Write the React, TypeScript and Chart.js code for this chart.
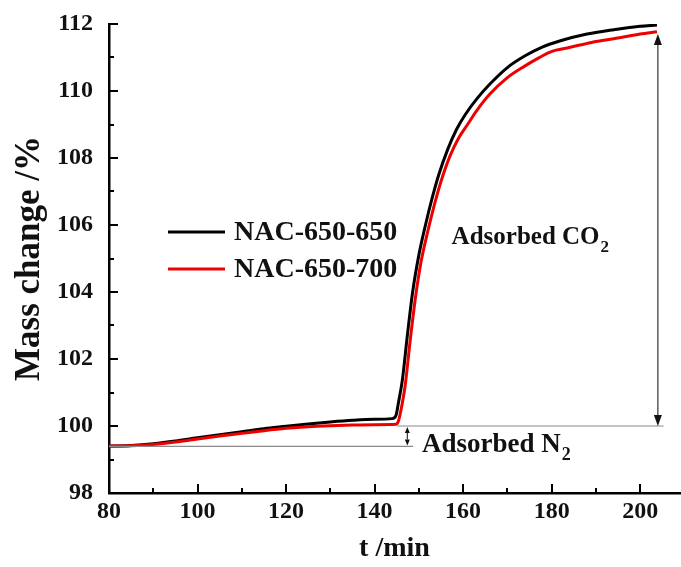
import React, { useEffect, useRef } from "react";
import { Chart, registerables } from "chart.js";

Chart.register(...registerables);

// ---- data ----
const seriesNames = ["NAC-650-650", "NAC-650-700"];

const tBlack = [80, 85, 90, 95, 100, 105, 110, 115, 120, 125, 130, 135, 140, 144, 144.8, 145.4, 146.3, 147.4, 148.6, 150, 151.5, 153, 154.5, 156.5, 158.5, 160.5, 163, 166, 170, 174, 178, 182, 188, 194, 200, 203.8];
const mBlack = [99.40, 99.42, 99.47, 99.55, 99.65, 99.74, 99.83, 99.92, 99.99, 100.06, 100.12, 100.17, 100.20, 100.22, 100.3, 100.7, 101.4, 102.7, 104.0, 105.1, 106.0, 106.8, 107.5, 108.25, 108.85, 109.3, 109.75, 110.2, 110.7, 111.05, 111.32, 111.5, 111.7, 111.83, 111.93, 111.97];

const tRed = [80, 85, 90, 95, 100, 105, 110, 115, 120, 125, 130, 135, 140, 144.8, 145.4, 146.0, 146.9, 148, 149.2, 150.5, 152, 153.5, 155, 157, 159, 161, 163, 166, 170, 174, 177, 179.5, 181, 184, 189, 195, 200, 203.8];
const mRed = [99.40, 99.41, 99.45, 99.52, 99.61, 99.70, 99.78, 99.86, 99.93, 99.98, 100.01, 100.03, 100.04, 100.05, 100.15, 100.5, 101.2, 102.5, 103.8, 104.9, 105.8, 106.6, 107.3, 108.05, 108.6, 109.0, 109.4, 109.9, 110.4, 110.75, 110.98, 111.15, 111.22, 111.3, 111.45, 111.58, 111.7, 111.77];

const xRange = [80, 209];
const yRange = [98, 112];
const xTickStep = 20;
const yTickStep = 2;

// annotation values (data units)
const n2Levels = [99.39, 100.0];
const n2LowerSpan = [80, 148.7];
const n2UpperSpan = [145, 205.3];
const n2ArrowT = 147.4;
const co2ArrowT = 204;
const co2ArrowTop = 111.7;
const co2Label = ["Adsorbed CO", "2"];
const co2LabelPos = [157.4, 105.43];
const n2Label = ["Adsorbed N", "2"];
const n2LabelPos = [150.7, 99.23];

const SERIF = "'Liberation Serif', 'Times New Roman', serif";

function toPoints(xs: number[], ys: number[]) {
  return xs.map((x, i) => ({ x, y: ys[i] }));
}

const decorPlugin = {
  id: "decor",
  afterDraw(chart: any) {
    const { ctx, chartArea, scales } = chart;
    const xs = scales.x;
    const ys = scales.y;
    ctx.save();

    // inward ticks
    ctx.strokeStyle = "#000";
    ctx.lineWidth = 2;
    for (let v = xRange[0]; v <= xRange[1]; v += xTickStep / 2) {
      const major = (v - xRange[0]) % xTickStep === 0;
      const px = Math.round(xs.getPixelForValue(v));
      ctx.beginPath();
      ctx.moveTo(px, chartArea.bottom);
      ctx.lineTo(px, chartArea.bottom - (major ? 9 : 5));
      ctx.stroke();
    }
    for (let v = yRange[0]; v <= yRange[1] + 1e-9; v += yTickStep / 2) {
      const major = Math.abs(((v - yRange[0]) / yTickStep) - Math.round((v - yRange[0]) / yTickStep)) < 1e-6;
      const py = Math.round(ys.getPixelForValue(v));
      ctx.beginPath();
      ctx.moveTo(chartArea.left, py);
      ctx.lineTo(chartArea.left + (major ? 9 : 5), py);
      ctx.stroke();
    }

    // reference lines
    ctx.strokeStyle = "#8a8a8a";
    ctx.lineWidth = 1.2;
    const yLow = ys.getPixelForValue(n2Levels[0]);
    const yUp = ys.getPixelForValue(n2Levels[1]);
    ctx.beginPath();
    ctx.moveTo(xs.getPixelForValue(n2LowerSpan[0]), yLow);
    ctx.lineTo(xs.getPixelForValue(n2LowerSpan[1]), yLow);
    ctx.moveTo(xs.getPixelForValue(n2UpperSpan[0]), yUp);
    ctx.lineTo(xs.getPixelForValue(n2UpperSpan[1]), yUp);
    ctx.stroke();

    const arrow = (x: number, y1: number, y2: number, head: number, hw: number) => {
      ctx.strokeStyle = "#333";
      ctx.fillStyle = "#111";
      ctx.lineWidth = 1.2;
      ctx.beginPath();
      ctx.moveTo(x, y1 + head);
      ctx.lineTo(x, y2 - head);
      ctx.stroke();
      ctx.beginPath();
      ctx.moveTo(x, y1);
      ctx.lineTo(x - hw, y1 + head);
      ctx.lineTo(x + hw, y1 + head);
      ctx.closePath();
      ctx.fill();
      ctx.beginPath();
      ctx.moveTo(x, y2);
      ctx.lineTo(x - hw, y2 - head);
      ctx.lineTo(x + hw, y2 - head);
      ctx.closePath();
      ctx.fill();
    };
    arrow(xs.getPixelForValue(co2ArrowT), ys.getPixelForValue(co2ArrowTop), yUp, 11, 4);
    arrow(xs.getPixelForValue(n2ArrowT), yUp + 1, yLow - 1, 6, 2.5);

    // labels with subscripts
    const subText = (parts: string[], pos: number[], size: number) => {
      const x = xs.getPixelForValue(pos[0]);
      const y = ys.getPixelForValue(pos[1]);
      ctx.fillStyle = "#111";
      ctx.textBaseline = "alphabetic";
      ctx.textAlign = "left";
      ctx.font = `bold ${size}px ${SERIF}`;
      ctx.fillText(parts[0], x, y);
      const w = ctx.measureText(parts[0]).width;
      ctx.font = `bold ${Math.round(size * 0.68)}px ${SERIF}`;
      ctx.fillText(parts[1], x + w + 1, y + size * 0.3);
    };
    subText(co2Label, co2LabelPos, 25);
    subText(n2Label, n2LabelPos, 27);

    // legend
    const lx0 = chartArea.left + 59;
    const lx1 = chartArea.left + 116;
    const ly = [chartArea.top + 208, chartArea.top + 245];
    chart.data.datasets.forEach((ds: any, i: number) => {
      ctx.strokeStyle = ds.borderColor;
      ctx.lineWidth = 3;
      ctx.beginPath();
      ctx.moveTo(lx0, ly[i]);
      ctx.lineTo(lx1, ly[i]);
      ctx.stroke();
      ctx.fillStyle = "#111";
      ctx.font = `bold 28px ${SERIF}`;
      ctx.textBaseline = "middle";
      ctx.textAlign = "left";
      ctx.fillText(ds.label, lx1 + 9, ly[i] + 1);
    });

    ctx.restore();
  },
};

export default function App() {
  const ref = useRef<HTMLCanvasElement | null>(null);

  useEffect(() => {
    if (!ref.current) return;
    const chart = new Chart(ref.current, {
      type: "line",
      data: {
        datasets: [
          {
            label: seriesNames[0],
            data: toPoints(tBlack, mBlack),
            borderColor: "#000000",
            borderWidth: 3,
            pointRadius: 0,
            cubicInterpolationMode: "monotone",
            order: 1,
          },
          {
            label: seriesNames[1],
            data: toPoints(tRed, mRed),
            borderColor: "#ee0000",
            borderWidth: 3,
            pointRadius: 0,
            cubicInterpolationMode: "monotone",
            order: 0,
          },
        ],
      },
      options: {
        animation: false,
        responsive: false,
        devicePixelRatio: 1,
        parsing: false,
        layout: { padding: { top: 24, right: 1, left: 0, bottom: 0 } },
        plugins: { legend: { display: false }, tooltip: { enabled: false } },
        scales: {
          x: {
            type: "linear",
            min: xRange[0],
            max: xRange[1],
            grid: { display: false, drawTicks: false },
            border: { display: true, color: "#000", width: 2.5 },
            ticks: {
              stepSize: xTickStep,
              includeBounds: false,
              padding: 4,
              color: "#111",
              font: { family: SERIF, size: 24, weight: "bold" },
              maxRotation: 0,
            },
            title: {
              display: true,
              text: "t /min",
              color: "#111",
              font: { family: SERIF, size: 28, weight: "bold" },
              padding: { top: 0, bottom: 1 },
            },
            afterFit: (s: any) => {
              s.height = 74;
            },
          },
          y: {
            type: "linear",
            min: yRange[0],
            max: yRange[1],
            grid: { display: false, drawTicks: false },
            border: { display: true, color: "#000", width: 2.5 },
            ticks: {
              stepSize: yTickStep,
              padding: 16,
              color: "#111",
              font: { family: SERIF, size: 24, weight: "bold" },
            },
            title: {
              display: true,
              text: "Mass change /%",
              color: "#111",
              font: { family: SERIF, size: 35, weight: "bold" },
              padding: { top: 9, bottom: 0 },
            },
            afterFit: (s: any) => {
              s.width = 109;
              s.paddingTop = 10;
              s.paddingBottom = 10;
            },
          },
        },
      },
      plugins: [decorPlugin],
    } as any);
    return () => chart.destroy();
  }, []);

  return (
    <div style={{ position: "fixed", left: 0, top: 0, width: 681, height: 567, background: "#fff" }}>
      <canvas ref={ref} width={681} height={567} />
    </div>
  );
}
